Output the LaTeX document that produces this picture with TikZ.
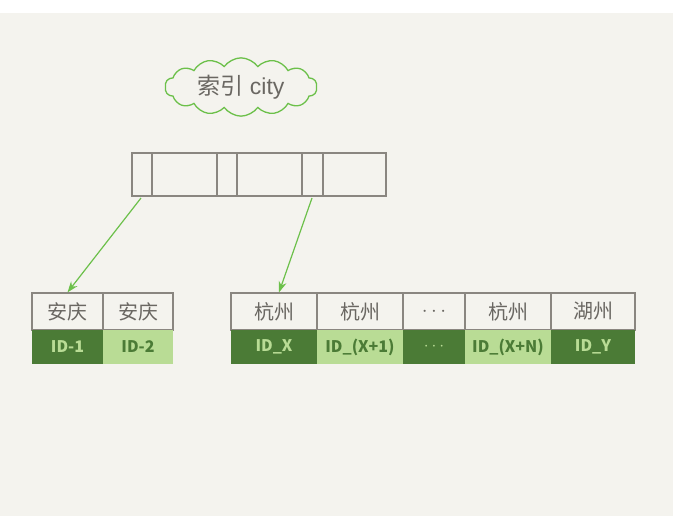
\documentclass[tikz,border=0pt]{standalone}
\usepackage{fontspec}
\setmainfont{Liberation Sans}
\newfontfamily\cjk{Noto Sans CJK SC}
\usetikzlibrary{shapes.symbols,arrows.meta}
\definecolor{bg}{HTML}{F4F3EE}
\definecolor{edge}{HTML}{8A8680}
\definecolor{dkg}{HTML}{4B7B36}
\definecolor{ltg}{HTML}{B9DC95}
\definecolor{txt}{HTML}{6A6762}
\definecolor{arr}{HTML}{6CC04A}
\tikzset{
  x=1pt,y=-1pt,
  topcell/.style={draw=edge,line width=1.2pt,fill=bg,minimum height=37pt,inner sep=0pt,text=txt,font=\cjk\fontsize{20}{20}\selectfont},
  dkcell/.style={fill=dkg,minimum height=34pt,inner sep=0pt,text=ltg,font=\cjk\bfseries\fontsize{16}{16}\selectfont},
  ltcell/.style={fill=ltg,minimum height=34pt,inner sep=0pt,text=dkg,font=\cjk\bfseries\fontsize{16}{16}\selectfont},
  idxcell/.style={draw=edge,line width=1.2pt,inner sep=0pt,minimum height=43pt},
  link/.style={draw=arr,line width=1.2pt,-{Stealth[length=11pt,width=8pt]}}
}
\begin{document}
\begin{tikzpicture}
\useasboundingbox (0,0) rectangle (685,522);
\fill[white] (0,0) rectangle (685,522);
\fill[bg] (0,13) rectangle (673,516);
% cloud
\node[cloud,cloud puffs=14,cloud puff arc=110,aspect=3,draw=arr,line width=1.3pt,fill=bg,minimum width=152pt,minimum height=50pt,text=txt,font=\fontsize{23}{23}\selectfont] (cl) at (241,87) {{\cjk 索引} city};
% index node
\foreach \a/\b/\n in {132/152/i1,152/217/i2,217/237/i3,237/302/i4,302/323/i5,323/386/i6}{
  \node[idxcell,minimum width={\b-\a}] (\n) at ({(\a+\b)/2},174.5) {};
}
% left leaf
\node[topcell,minimum width=71pt] (a1) at (67.5,311.5) {安庆};
\node[topcell,minimum width=70pt] (a2) at (138,311.5) {安庆};
\node[dkcell,minimum width=71pt] (b1) at (67.5,347) {ID-1};
\node[ltcell,minimum width=70pt] (b2) at (138,347) {ID-2};
% right leaf
\node[topcell,minimum width=86pt] (c1) at (274,311.5) {杭州};
\node[topcell,minimum width=86pt] (c2) at (360,311.5) {杭州};
\node[topcell,minimum width=62pt] (c3) at (434,311.5) {$\cdots$};
\node[topcell,minimum width=86pt] (c4) at (508,311.5) {杭州};
\node[topcell,minimum width=84pt] (c5) at (593,311.5) {湖州};
\node[dkcell,minimum width=86pt] (d1) at (274,347) {ID\_X};
\node[ltcell,minimum width=86pt] (d2) at (360,347) {ID\_(X+1)};
\node[dkcell,minimum width=62pt] (d3) at (434,347) {$\cdots$};
\node[ltcell,minimum width=86pt] (d4) at (508,347) {ID\_(X+N)};
\node[dkcell,minimum width=84pt] (d5) at (593,347) {ID\_Y};
% arrows
\coordinate (s1) at (141,198);
\coordinate (s2) at (312,198);
\draw[link] (s1) -- (a1.north);
\draw[link] (s2) -- ([xshift=5pt]c1.north);
\end{tikzpicture}
\end{document}
